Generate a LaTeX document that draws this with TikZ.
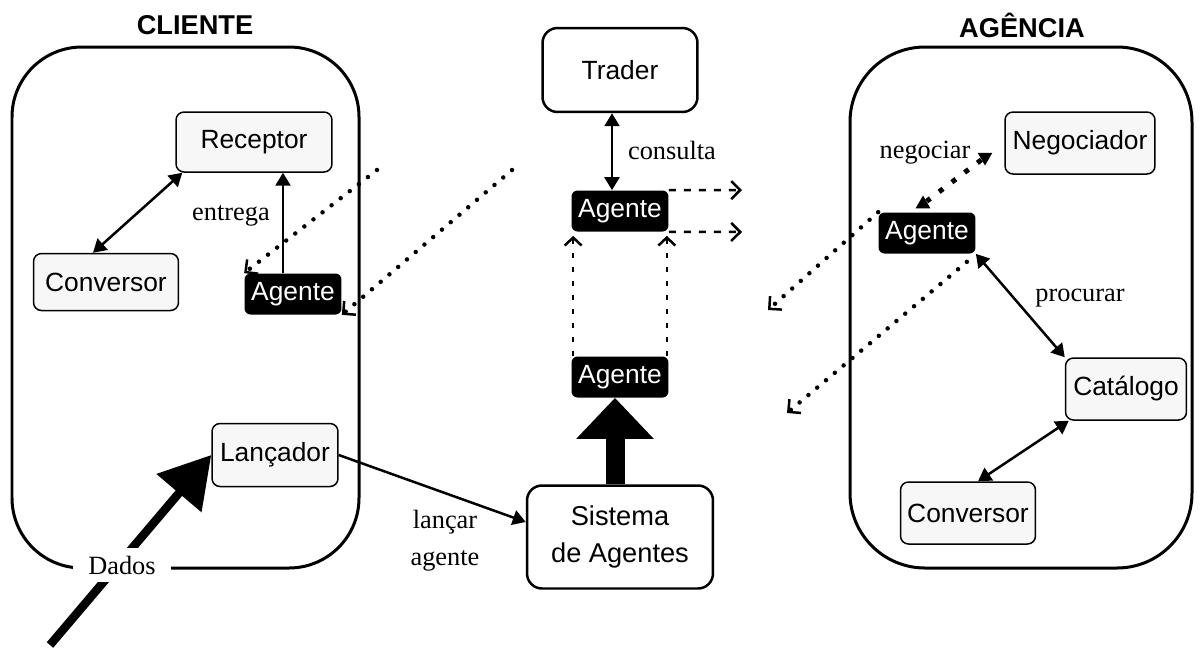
\documentclass[tikz,border=0pt]{standalone}
\usepackage{fontspec}
\setmainfont{Liberation Serif}
\setsansfont{Liberation Sans}
\usetikzlibrary{arrows.meta,positioning,shapes.geometric}

\newcommand{\cmpfont}{\sffamily\fontsize{15}{17}\selectfont}
\newcommand{\lblfont}{\rmfamily\fontsize{15}{21}\selectfont}

\begin{document}
\begin{tikzpicture}[
    x=0.02cm, y=-0.02cm,
    comp/.style={draw, line width=0.3mm, rounded corners=1.6mm, fill=black!3, font=\cmpfont, minimum height=12.4mm, inner sep=0pt},
    agt/.style={fill=black, text=white, rounded corners=1.2mm, font=\cmpfont, minimum width=19.4mm, minimum height=8.2mm, inner sep=0pt},
    srv/.style={draw, line width=0.5mm, rounded corners=3mm, fill=white, font=\cmpfont, align=center, inner sep=0pt},
    area/.style={draw, line width=0.6mm, rounded corners=14mm},
    ttl/.style={font=\sffamily\bfseries\fontsize{15.5}{17}\selectfont},
    lbl/.style={font=\lblfont, align=center},
    link/.style={line width=0.5mm, -{Triangle[length=2.6mm,width=3mm]}},
    dlink/.style={line width=0.5mm, {Triangle[length=2.6mm,width=3mm]}-{Triangle[length=2.6mm,width=3mm]}},
    mig/.style={line width=0.9mm, line cap=round, dash pattern=on 0pt off 2.3mm, -{Straight Barb[length=1.8mm,width=3.6mm,line width=0.5mm]}},
    trail/.style={line width=0.5mm, dash pattern=on 1mm off 1.8mm, -{Straight Barb[length=1.6mm,width=3.4mm,line width=0.5mm]}},
    send/.style={line width=0.5mm, dash pattern=on 1.4mm off 1.6mm, -{Straight Barb[length=1.8mm,width=3.6mm,line width=0.5mm]}},
    nego/.style={line width=1mm, dash pattern=on 1mm off 2.2mm},
    tri/.style={regular polygon, regular polygon sides=3, fill, inner sep=0pt, minimum size=3.4mm},
    fat/.style={line width=1.7mm, -{Triangle[length=10mm,width=11.4mm]}},
    fatv/.style={line width=3.8mm, -{Triangle[length=8.2mm,width=15mm]}}
  ]
\useasboundingbox (0,0) rectangle (1201,650);

% Client side
\node[ttl] (cliT) at (195,25) {CLIENTE};
\draw[area] (12,47) rectangle (359,568);
\node[comp, minimum width=31.2mm, minimum height=12mm] (rec) at (254,142) {Receptor};
\node[comp, minimum width=29mm, minimum height=11.4mm] (convC) at (106,282) {Conversor};
\node[agt] (agC) at (293,294) {Agente};
\node[comp, minimum width=25.2mm, minimum height=12.6mm] (lanc) at (275,455) {Lançador};
\node[lbl] (entrega) at (231,216) {entrega};

% Middle: trader and agent system
\node[srv, minimum width=31mm, minimum height=16.8mm] (trader) at (620,70) {Trader};
\node[agt] (agT) at (620,211) {Agente};
\node[agt] (agS) at (620,377) {Agente};
\node[srv, minimum width=37.2mm, minimum height=20.6mm, font=\sffamily\fontsize{15.5}{21.5}\selectfont] (sis) at (620,537) {Sistema\\de Agentes};
\node[lbl] (consulta) at (672,150) {consulta};
\node[lbl] (lancar) at (445,541) {lançar\\agente};

% Agency side
\node[ttl] (agcT) at (1022,25) {AGÊNCIA};
\draw[area, rounded corners=15mm] (850,47) rectangle (1192,568);
\node[comp, minimum width=30mm] (neg) at (1080,143) {Negociador};
\node[agt] (agA) at (927,233) {Agente};
\node[comp, minimum width=24.2mm] (cat) at (1126,389) {Catálogo};
\node[comp, minimum width=27mm] (convA) at (968,513) {Conversor};
\node[lbl] (negociar) at (925,153) {negociar};
\node[lbl] (procurar) at (1080,298) {procurar};

% Free ends
\coordinate (datIn) at (50,645);
\coordinate (migA) at (377,170);
\coordinate (migB) at (512,170);
\coordinate (outT1) at (742,190);
\coordinate (outT2) at (742,232);
\coordinate (migC) at (768,310);
\coordinate (migD) at (787,413);

% Client connectors
\draw[dlink] ([xshift=1.4mm]rec.south west) -- ([xshift=-2.6mm]convC.north);
\draw[link] ([xshift=-2mm]agC.north) -- ([xshift=-2mm]agC.north |- rec.south);
\draw[mig] (migA) -- (agC.north west);
\draw[mig] (migB) -- (agC.south east);
\draw[link] (lanc.east) -- ([yshift=3mm]sis.west);
\draw[fat] (datIn) -- (lanc.west);
\node[lbl, fill=white, inner xsep=3mm, inner ysep=1.5mm] (dados) at (122,565) {Dados};

% Middle connectors
\draw[dlink] ([xshift=-1.6mm]trader.south) -- ([xshift=-1.6mm]agT.north);
\draw[send] (agT.north east) -- (outT1);
\draw[send] (agT.south east) -- (outT2);
\draw[trail] ([xshift=0.4mm]agS.north west) -- ([xshift=0.4mm,yshift=-0.8mm]agT.south west);
\draw[trail] ([xshift=-0.4mm]agS.north east) -- ([xshift=-0.4mm,yshift=-0.8mm]agT.south east);
\draw[fatv] ([xshift=-1mm]sis.north) -- ([xshift=-1mm]agS.south);

% Agency connectors
\node[tri, shape border rotate=180] (negTip) at (985,157) {};
\node[tri] (agTip) at (923,204) {};
\draw[nego] (negTip) -- (agTip);
\draw[mig] (agA.north west) -- (migC);
\draw[mig] ([shift={(-1.8mm,-1.6mm)}]agA.south east) -- (migD);
\draw[dlink] (agA.south east) -- (cat.north west);
\draw[dlink] ([xshift=0.8mm]cat.south west) -- ([xshift=2mm]convA.north);

\end{tikzpicture}
\end{document}
